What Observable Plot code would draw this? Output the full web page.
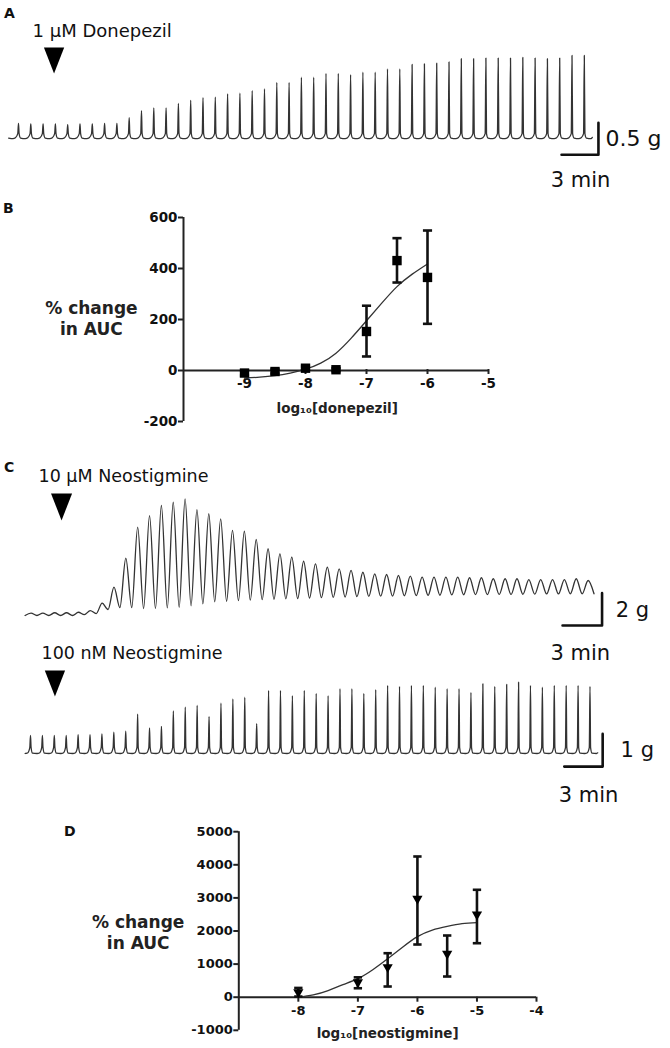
<!DOCTYPE html>
<html><head><meta charset="utf-8">
<script src="https://cdn.jsdelivr.net/npm/d3@7"></script>
<script src="https://cdn.jsdelivr.net/npm/@observablehq/plot@0.6"></script>
<style>
body{margin:0;background:#fff;}
#fig{position:relative;width:670px;height:1048px;overflow:hidden;font-family:"DejaVu Sans",sans-serif;background:#fff;}
.letter{position:absolute;font-weight:bold;font-size:14px;line-height:14px;color:#111;font-family:"DejaVu Sans",sans-serif;}
</style></head><body><div id="fig"></div>
<script>
// ================= DATA =================
// Panel A: 1 µM donepezil, contraction peak amplitudes (g), one contraction per minute
const peaksA = [0.19,0.18,0.18,0.18,0.17,0.18,0.18,0.19,0.19,0.28,0.39,0.43,0.43,0.50,0.55,0.59,0.60,0.65,0.66,0.70,0.73,0.83,0.83,0.91,0.91,0.97,0.97,0.95,0.99,0.99,1.04,1.04,1.11,1.12,1.13,1.15,1.20,1.20,1.21,1.21,1.21,1.22,1.21,1.20,1.21,1.25,1.25];
const periodA = 1.0; // min per contraction

// Panel C (top): 10 µM neostigmine, peak and trough levels (g)
const peaksC1 = [0.15,0.15,0.17,0.17,0.2,0.3,0.76,1.75,3.54,5.45,6.17,6.79,6.99,7.2,6.54,6.28,5.97,5.25,5.2,4.69,4.12,3.81,3.6,3.35,3.19,2.98,2.88,2.78,2.67,2.57,2.53,2.47,2.43,2.37,2.37,2.37,2.37,2.33,2.33,2.27,2.27,2.27,2.22,2.22,2.22,2.22,2.27,2.16];
const troughsC1 = [0,0,0,0,0.05,0.12,0.37,0.49,0.49,0.43,0.43,0.47,0.5,0.6,0.72,0.85,0.88,0.92,0.95,0.98,1.0,1.03,1.05,1.08,1.1,1.12,1.14,1.16,1.18,1.19,1.2,1.22,1.23,1.24,1.25,1.27,1.28,1.29,1.29,1.3,1.3,1.31,1.32,1.33,1.33,1.34,1.34,1.34];
const periodC1 = 0.9;

// Panel C (bottom): 100 nM neostigmine, contraction peak amplitudes (g)
const peaksC2 = [0.55,0.55,0.55,0.55,0.58,0.58,0.6,0.65,0.68,1.2,0.78,0.83,1.3,1.42,1.47,1.13,1.54,1.67,1.72,0.91,1.93,1.93,1.77,1.93,1.84,1.77,1.98,1.98,1.84,1.95,2.08,2.05,2.08,2.08,2.03,1.98,1.98,1.87,2.13,2.05,2.11,2.18,2.08,2.03,2.08,2.08,2.08,2.05];
const periodC2 = 0.93;

// Scale bars
const barMinutes = 3;
const barGramsA = 0.5, barGramsC1 = 2, barGramsC2 = 1;
const drugLabels = ["1 μM Donepezil", "10 μM Neostigmine", "100 nM Neostigmine"];

// Panel B: donepezil concentration-response
const logDonepezil = [-9, -8.5, -8, -7.5, -7, -6.5, -6];
const aucDonepezil = [-10, -4, 9, 3, 153, 431, 365];
const loDonepezil = [-20, -12, 2, -3, 55, 345, 183];
const hiDonepezil = [0, 4, 16, 9, 254, 519, 549];
const fitXDonepezil = [-9, -8.75, -8.5, -8.25, -8, -7.75, -7.5, -7.25, -7, -6.75, -6.5, -6.25, -6];
const fitYDonepezil = [-30, -26, -20, -10, 5, 29, 68, 127, 195, 264, 329, 378, 418];
const yTicksB = [-200, 0, 200, 400, 600];
const xTicksB = [-9, -8, -7, -6, -5];

// Panel D: neostigmine concentration-response
const logNeostigmine = [-8, -7, -6.5, -6, -5.5, -5];
const aucNeostigmine = [150, 450, 906, 2973, 1311, 2498];
const loNeostigmine = [20, 270, 323, 1592, 625, 1631];
const hiNeostigmine = [280, 600, 1329, 4251, 1864, 3245];
const fitXNeostigmine = [-8, -7.75, -7.5, -7.25, -7, -6.75, -6.5, -6.25, -6, -5.75, -5.5, -5.25, -5];
const fitYNeostigmine = [0, 70, 200, 380, 560, 830, 1160, 1510, 1830, 2030, 2140, 2220, 2250];
const yTicksD = [-1000, 0, 1000, 2000, 3000, 4000, 5000];
const xTicksD = [-8, -7, -6, -5, -4];

const yLabel = "% change\nin AUC";
const xLabelB = "log₁₀[donepezil]";
const xLabelD = "log₁₀[neostigmine]";

// ================= HELPERS =================
const fig = document.getElementById("fig");
function place(el, top) {
  el.style.position = "absolute"; el.style.left = "0px"; el.style.top = top + "px";
  fig.append(el);
}
function letter(txt, left, top) {
  const d = document.createElement("div"); d.className = "letter"; d.textContent = txt;
  d.style.left = left + "px"; d.style.top = top + "px"; fig.append(d);
}
const style = {background: "transparent", overflow: "visible", fontFamily: "DejaVu Sans, sans-serif", color: "#111"};
// tall downward arrowhead
const arrowDown = {draw(ctx, size) {
  const r = Math.sqrt(size / Math.PI), hw = 0.78 * r;
  ctx.moveTo(-hw, -r); ctx.lineTo(hw, -r); ctx.lineTo(0, r); ctx.closePath();
}};
// spike-type contraction record (narrow peak, rounded trough)
function spikeWave(peaks, period, trough, foot, lead) {
  const pts = [{t: -lead * period, g: trough + 0.01}];
  peaks.forEach((p, i) => {
    const c = i * period;
    pts.push({t: c - 0.45 * period, g: trough}, {t: c - 0.25 * period, g: trough + 0.015},
             {t: c - 0.06 * period, g: foot}, {t: c, g: p},
             {t: c + 0.05 * period, g: foot}, {t: c + 0.17 * period, g: trough + 0.01});
  });
  pts.push({t: (peaks.length - 0.45) * period, g: trough}, {t: (peaks.length - 0.35) * period, g: trough + 0.02});
  return pts;
}
// oscillating record with explicit peak/trough levels
function oscWave(peaks, troughs, period) {
  const pts = [{t: -0.5 * period, g: 0}];
  peaks.forEach((p, i) => { pts.push({t: i * period, g: p}, {t: (i + 0.5) * period, g: troughs[i]}); });
  return pts;
}
function scaleBar(t0, g0, minutes, grams) {
  return [{t: t0 - minutes, g: g0}, {t: t0, g: g0}, {t: t0, g: g0 + grams}];
}
const traceStyle = {x: "t", y: "g", curve: "monotone-x", stroke: "#333", strokeWidth: 1.3};
const barStyle = {x: "t", y: "g", stroke: "#111", strokeWidth: 2.6};
const fmt = d => String(d);

// ================= PANEL A =================
letter("A", 4, 6);
place(Plot.plot({
  width: 670, height: 195, margin: 0, style,
  x: {domain: [0, 46], range: [18, 583.8], axis: null},
  y: {domain: [0, 1], range: [135, 71], axis: null},
  marks: [
    Plot.line(spikeWave(peaksA, periodA, -0.05, 0.03, 0.8), traceStyle),
    Plot.line(scaleBar(47.15, -0.3, barMinutes, barGramsA), barStyle),
    Plot.text([`${barGramsA} g`], {x: 47.72, y: -0.06, text: d => d, textAnchor: "start", fontSize: 22, fill: "#111"}),
    Plot.text([`${barMinutes} min`], {x: 45.7, y: -0.7, text: d => d, textAnchor: "middle", fontSize: 21, fill: "#111"}),
    Plot.dot([0], {x: 2.89, y: 1.17, symbol: arrowDown, r: 13, fill: "#000", stroke: "none"}),
    Plot.text([drugLabels[0]], {x: 1.14, y: 1.63, text: d => d, textAnchor: "start", fontSize: 18, fill: "#111"})
  ]
}), 0);

// ================= PANEL B =================
letter("B", 3, 201);
const donepezil = logDonepezil.map((x, i) => ({x, y: aucDonepezil[i], lo: loDonepezil[i], hi: hiDonepezil[i]}));
const fitB = fitXDonepezil.map((x, i) => ({x, y: fitYDonepezil[i]}));
const capB = 0.075;
place(Plot.plot({
  width: 670, height: 235, marginLeft: 183, marginRight: 182, marginTop: 22, marginBottom: 61, style,
  x: {domain: [-10, -5]},
  y: {domain: [-200, 600], range: [226, 22]},
  marks: [
    Plot.ruleX([-10], {y1: -200, y2: 600, stroke: "#222", strokeWidth: 2}),
    Plot.ruleY([0], {x1: -10, x2: -5, stroke: "#222", strokeWidth: 2}),
    Plot.axisY({ticks: yTicksB, tickFormat: fmt, tickSize: 5, tickPadding: 1, label: null, fontSize: 13.5, fontWeight: "bold", strokeWidth: 2, stroke: "#222"}),
    Plot.axisX({ticks: xTicksB, tickFormat: fmt, tickSize: 5, tickPadding: 4, label: null, fontSize: 13.5, fontWeight: "bold", strokeWidth: 2, stroke: "#222"}),
    Plot.line(fitB, {x: "x", y: "y", curve: "natural", stroke: "#333", strokeWidth: 1.3}),
    Plot.ruleX(donepezil, {x: "x", y1: "lo", y2: "hi", stroke: "#111", strokeWidth: 2.6}),
    Plot.link(donepezil, {x1: d => d.x - capB, x2: d => d.x + capB, y1: "hi", y2: "hi", stroke: "#111", strokeWidth: 2.6}),
    Plot.link(donepezil, {x1: d => d.x - capB, x2: d => d.x + capB, y1: "lo", y2: "lo", stroke: "#111", strokeWidth: 2.6}),
    Plot.dot(donepezil, {x: "x", y: "y", symbol: "square", r: 5.3, fill: "#000", stroke: "none"}),
    Plot.text([yLabel], {x: -11.51, y: 206, text: d => d, fontSize: 17, fontWeight: "bold", lineHeight: 1.22, fill: "#222"}),
    Plot.text([xLabelB], {x: -7.48, y: -149, text: d => d, fontSize: 13.5, fontWeight: "bold", fill: "#222"})
  ]
}), 195);

// ================= PANEL C =================
letter("C", 4, 460);
place(Plot.plot({
  width: 670, height: 240, margin: 0, style,
  x: {domain: [0, 42.3], range: [30.5, 587.6], axis: null},
  y: {domain: [0, 5], range: [185, 104], axis: null},
  marks: [
    Plot.line(oscWave(peaksC1, troughsC1, periodC1), traceStyle),
    Plot.line(scaleBar(43.36, -0.62, barMinutes, barGramsC1), barStyle),
    Plot.text([`${barGramsC1} g`], {x: 44.4, y: 0.31, text: d => d, textAnchor: "start", fontSize: 21, fill: "#111"}),
    Plot.text([`${barMinutes} min`], {x: 41.7, y: -2.35, text: d => d, textAnchor: "middle", fontSize: 21, fill: "#111"}),
    Plot.dot([0], {x: 2.32, y: 6.7, symbol: arrowDown, r: 13.5, fill: "#000", stroke: "none"}),
    Plot.text([drugLabels[1]], {x: 0.57, y: 8.6, text: d => d, textAnchor: "start", fontSize: 17.5, fill: "#111"})
  ]
}), 430);

place(Plot.plot({
  width: 670, height: 180, margin: 0, style,
  x: {domain: [0, 43.71], range: [30, 589.5], axis: null},
  y: {domain: [0, 1], range: [113, 80.3], axis: null},
  marks: [
    Plot.line(spikeWave(peaksC2, periodC2, 0, 0.18, 0.35), traceStyle),
    Plot.line(scaleBar(44.7, -0.4, barMinutes, barGramsC2), barStyle),
    Plot.text([`${barGramsC2} g`], {x: 46.1, y: 0.09, text: d => d, textAnchor: "start", fontSize: 21, fill: "#111"}),
    Plot.text([`${barMinutes} min`], {x: 43.6, y: -1.28, text: d => d, textAnchor: "middle", fontSize: 21, fill: "#111"}),
    Plot.dot([0], {x: 1.91, y: 2.14, symbol: arrowDown, r: 13, fill: "#000", stroke: "none"}),
    Plot.text([drugLabels[2]], {x: 0.86, y: 3.06, text: d => d, textAnchor: "start", fontSize: 17.5, fill: "#111"})
  ]
}), 640);

// ================= PANEL D =================
letter("D", 64, 824);
const neostigmine = logNeostigmine.map((x, i) => ({x, y: aucNeostigmine[i], lo: loNeostigmine[i], hi: hiNeostigmine[i]}));
const fitD = fitXNeostigmine.map((x, i) => ({x, y: fitYNeostigmine[i]}));
const capD = 0.07;
place(Plot.plot({
  width: 670, height: 228, marginLeft: 238.3, marginRight: 134, marginTop: 11.2, marginBottom: 51.3, style,
  x: {domain: [-9, -4]},
  y: {domain: [-1000, 5000], range: [209.8, 11.2]},
  marks: [
    Plot.ruleX([-9], {y1: -1000, y2: 5000, stroke: "#222", strokeWidth: 2}),
    Plot.ruleY([0], {x1: -9, x2: -4, stroke: "#222", strokeWidth: 2}),
    Plot.axisY({ticks: yTicksD, tickFormat: fmt, tickSize: 5, tickPadding: 1, label: null, fontSize: 13, fontWeight: "bold", strokeWidth: 2, stroke: "#222"}),
    Plot.axisX({ticks: xTicksD, tickFormat: fmt, tickSize: 5, tickPadding: 4, label: null, fontSize: 13, fontWeight: "bold", strokeWidth: 2, stroke: "#222"}),
    Plot.line(fitD, {x: "x", y: "y", curve: "natural", stroke: "#333", strokeWidth: 1.3}),
    Plot.ruleX(neostigmine, {x: "x", y1: "lo", y2: "hi", stroke: "#111", strokeWidth: 2.6}),
    Plot.link(neostigmine, {x1: d => d.x - capD, x2: d => d.x + capD, y1: "hi", y2: "hi", stroke: "#111", strokeWidth: 2.6}),
    Plot.link(neostigmine, {x1: d => d.x - capD, x2: d => d.x + capD, y1: "lo", y2: "lo", stroke: "#111", strokeWidth: 2.6}),
    Plot.dot(neostigmine, {x: "x", y: "y", symbol: "triangle", rotate: 180, r: 3.8, fill: "#000", stroke: "none"}),
    Plot.text([yLabel], {x: -10.69, y: 1964, text: d => d, fontSize: 17, fontWeight: "bold", lineHeight: 1.22, fill: "#222"}),
    Plot.text([xLabelD], {x: -6.5, y: -1097, text: d => d, fontSize: 13.5, fontWeight: "bold", fill: "#222"})
  ]
}), 820);
</script>
</body></html>
